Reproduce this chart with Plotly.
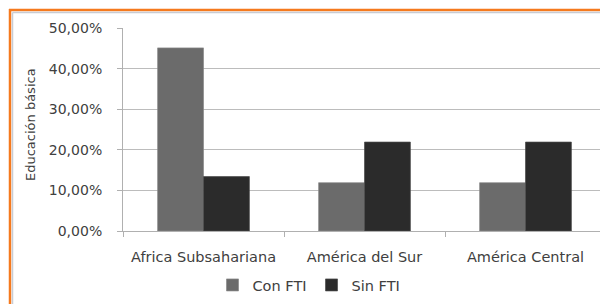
import plotly.graph_objects as go

categories = ["Africa Subsahariana", "América del Sur", "América Central"]
con_fti = [0.451, 0.119, 0.119]
sin_fti = [0.134, 0.219, 0.219]
series_names = ["Con FTI", "Sin FTI"]
y_title = "Educación básica"

W, H = 600, 304
L, R, T, B = 123, 0, 28, 304 - 231
pw, ph = W - L - R, H - T - B

def px_x(p):  # screen px -> paper x
    return (p - L) / pw

def px_y(p):  # screen px -> paper y
    return (H - B - p) / ph

FONT = "DejaVu Sans, Verdana, sans-serif"
TXT = "#404040"

fig = go.Figure()
fig.add_trace(go.Bar(x=categories, y=con_fti, name=series_names[0],
                     marker=dict(color="#6b6b6b", line=dict(color="#8a8a8a", width=0.7))))
fig.add_trace(go.Bar(x=categories, y=sin_fti, name=series_names[1],
                     marker=dict(color="#2b2b2b", line=dict(color="#4a4a4a", width=0.7))))

fig.update_layout(
    width=W, height=H,
    margin=dict(l=L, r=R, t=T, b=B, autoexpand=False),
    paper_bgcolor="white", plot_bgcolor="white",
    barmode="group", bargap=0.43, bargroupgap=0,
    separators=",.",
    font=dict(family=FONT, size=14, color=TXT),
    showlegend=True,
    legend=dict(orientation="h", xref="container", yref="container",
                x=309 / W, y=1 - 285 / H,
                xanchor="center", yanchor="middle",
                font=dict(family=FONT, size=14.5, color=TXT), itemwidth=30,
                tracegroupgap=0, traceorder="normal"),
    xaxis=dict(range=[-0.5, -0.5 + pw / 161], showgrid=False, showline=True,
               linecolor="#b0b0b0", linewidth=1, ticks="outside", ticklen=5,
               tickcolor="#b0b0b0", tickson="boundaries", ticklabelstandoff=13,
               automargin=False,
               tickfont=dict(family=FONT, size=14.5, color=TXT), fixedrange=True),
    yaxis=dict(range=[0, 0.5], dtick=0.1, tickformat=".2%", showgrid=True,
               gridcolor="#bcbcbc", gridwidth=1, showline=True,
               linecolor="#b0b0b0", linewidth=1, ticks="outside", ticklen=5,
               tickcolor="#b0b0b0", ticklabelstandoff=12, zeroline=False,
               automargin=False,
               tickfont=dict(family=FONT, size=14, color=TXT), fixedrange=True),
    annotations=[dict(text=y_title, xref="paper", yref="paper",
                      x=px_x(30), y=px_y(125), textangle=-90, showarrow=False,
                      xanchor="center", yanchor="middle",
                      font=dict(family=FONT, size=13, color=TXT))],
    shapes=[
        dict(type="line", xref="paper", yref="paper", x0=px_x(10), x1=px_x(10),
             y0=px_y(9), y1=px_y(304), line=dict(color="#f57a1e", width=2.5)),
        dict(type="line", xref="paper", yref="paper", x0=px_x(9), x1=px_x(600),
             y0=px_y(10), y1=px_y(10), line=dict(color="#f57a1e", width=2.5)),
        dict(type="line", xref="paper", yref="paper", x0=px_x(12.5), x1=px_x(12.5),
             y0=px_y(12.5), y1=px_y(304), line=dict(color="#c8ccd4", width=1.5)),
        dict(type="line", xref="paper", yref="paper", x0=px_x(12.5), x1=px_x(600),
             y0=px_y(12.5), y1=px_y(12.5), line=dict(color="#c8ccd4", width=1.5)),
    ],
)

fig.write_html("out.html", config={"displayModeBar": False},
               post_script="document.body.style.margin='0';"
                           "document.documentElement.style.overflow='hidden';")
